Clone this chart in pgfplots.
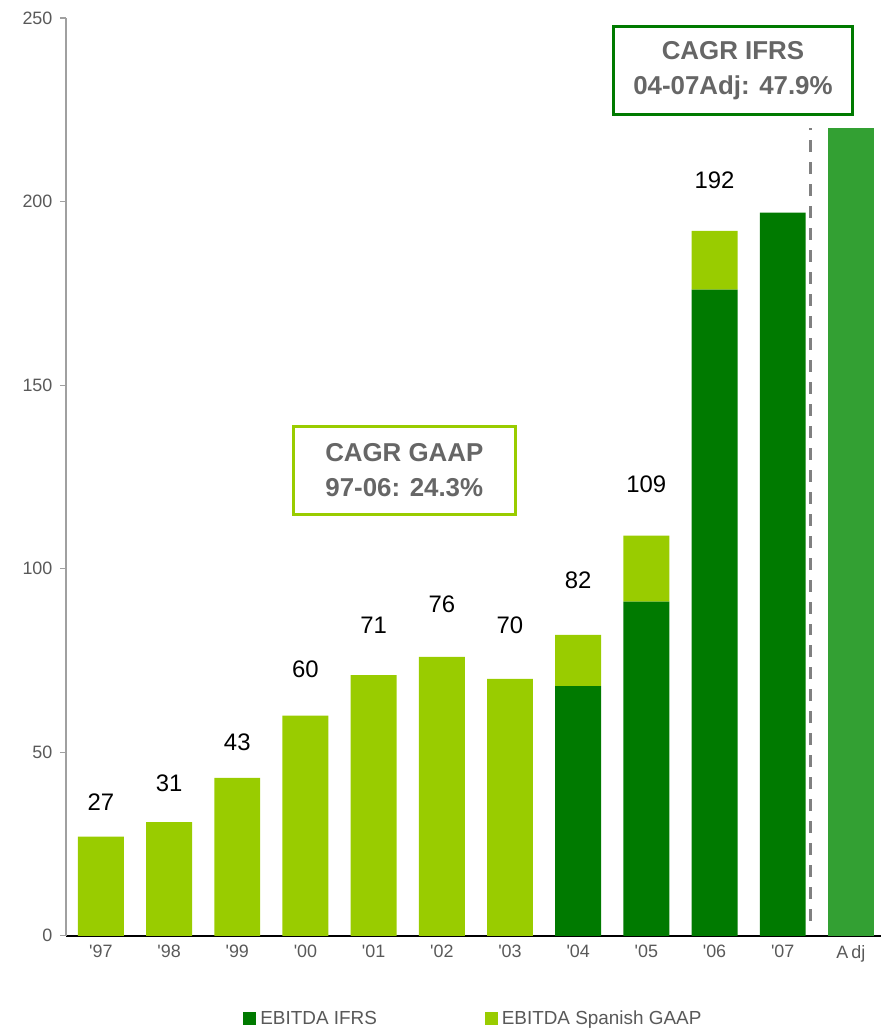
\documentclass[border=0pt]{standalone}
\usepackage{fontspec}
\setmainfont{Liberation Sans}
\usepackage{pgfplots}
\pgfplotsset{compat=1.18}
\definecolor{ifrs}{RGB}{0,122,0}
\definecolor{gaap}{RGB}{153,204,0}
\definecolor{adj}{RGB}{51,160,51}
\definecolor{txtgray}{RGB}{89,89,89}
\definecolor{boxgray}{RGB}{102,102,102}
\definecolor{linegray}{RGB}{160,160,160}
\definecolor{dashgray}{RGB}{128,128,128}
\tikzset{toplab/.style={font=\fontsize{24}{26}\selectfont, text=black, anchor=center},
         inlab/.style={font=\fontsize{24}{26}\selectfont, text=white, anchor=center}}
\begin{document}
\begin{tikzpicture}
\begin{axis}[
 scale only axis, width=816bp, height=919bp,
 ybar stacked, bar width=46bp,
 xmin=-0.513, xmax=11.44, ymin=0, ymax=250,
 xtick={0,1,2,3,4,5,6,7,8,9,10,11},
 xticklabels={\textquotesingle97,\textquotesingle98,\textquotesingle99,\textquotesingle00,\textquotesingle01,\textquotesingle02,\textquotesingle03,\textquotesingle04,\textquotesingle05,\textquotesingle06,\textquotesingle07,A\,dj},
 ytick={0,50,100,150,200,250},
 axis x line=bottom, axis y line=left,
 x axis line style={black, line width=2bp, -},
 y axis line style={linegray, line width=1.2bp, -},
 xtick style={draw=none},
 ytick style={linegray, line width=1.2bp},
 tick align=outside, major tick length=6bp,
 tick label style={font=\fontsize{18}{20}\selectfont, text=txtgray},
 yticklabel style={xshift=-4bp},
 /pgf/number format/assume math mode=true,
 legend style={at={(0.5,-0.09)}, anchor=center, draw=none, legend columns=2,
   font=\fontsize{19}{21}\selectfont, text=txtgray,
   /tikz/every even column/.append style={column sep=106bp}},
 legend image code/.code={\fill[#1] (0bp,-6.5bp) rectangle (13bp,6.5bp); \path (15bp,0bp);},
 clip=false,
]
\addplot[fill=ifrs, draw=none] coordinates {(0,0) (1,0) (2,0) (3,0) (4,0) (5,0) (6,0) (7,68) (8,91) (9,176) (10,197) (11,0)};
\addlegendentry{EBITDA IFRS}
\addplot[fill=gaap, draw=none] coordinates {(0,27) (1,31) (2,43) (3,60) (4,71) (5,76) (6,70) (7,14) (8,18) (9,16) (10,0) (11,0)};
\addlegendentry{EBITDA Spanish GAAP}
\addplot[fill=adj, draw=none, forget plot] coordinates {(0,0) (1,0) (2,0) (3,0) (4,0) (5,0) (6,0) (7,0) (8,0) (9,0) (10,0) (11,220)};

\node[toplab] at (axis cs:0,36.5) {27};
\node[toplab] at (axis cs:1,41.6) {31};
\node[toplab] at (axis cs:2,52.8) {43};
\node[toplab] at (axis cs:3,72.6) {60};
\node[toplab] at (axis cs:4,84.6) {71};
\node[toplab] at (axis cs:5,90.3) {76};
\node[toplab] at (axis cs:6,84.6) {70};
\node[toplab] at (axis cs:7,96.8) {82};
\node[toplab] at (axis cs:8,123) {109};
\node[toplab] at (axis cs:9,205.9) {192};
\node[inlab] at (axis cs:7,34.3) {68};
\node[inlab] at (axis cs:8,45.7) {91};
\node[inlab] at (axis cs:9,88.1) {176};
\node[inlab] at (axis cs:10,98.2) {197};
\node[inlab] at (axis cs:11,111.5) {220};

\draw[dashgray, line width=3bp, dash pattern=on 12bp off 10bp] (axis cs:10.41,4) -- (axis cs:10.41,220);

\node[draw=gaap, line width=3bp, fill=white, minimum width=222bp, minimum height=88bp, align=center, text=boxgray, font=\bfseries\fontsize{26}{35}\selectfont] at (axis cs:4.45,126.8) {CAGR GAAP\\97-06: 24.3\%};
\node[draw=ifrs, line width=3bp, fill=white, minimum width=240bp, minimum height=88bp, align=center, text=boxgray, font=\bfseries\fontsize{26}{35}\selectfont] at (axis cs:9.27,235.6) {CAGR IFRS\\04-07Adj: 47.9\%};
\end{axis}
\path ([shift={(-66bp,-93bp)}]current axis.south west) rectangle ([shift={(0bp,18bp)}]current axis.north east);
\end{tikzpicture}
\end{document}
